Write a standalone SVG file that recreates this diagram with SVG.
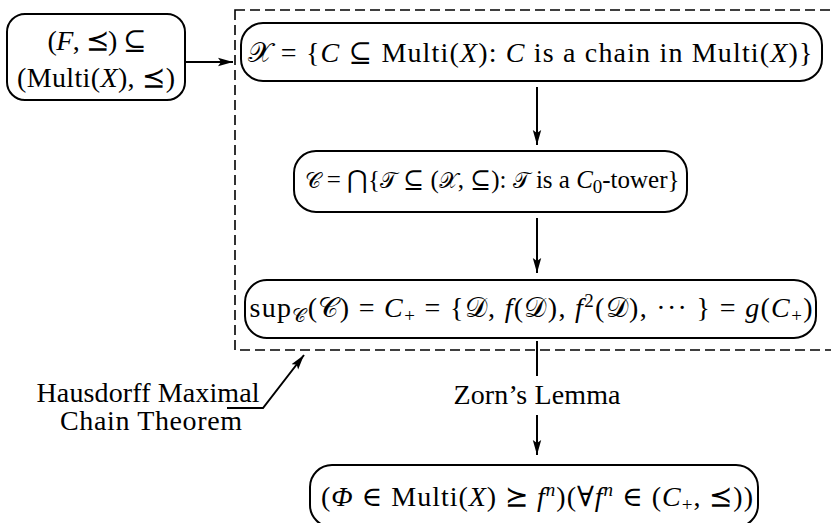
<svg xmlns="http://www.w3.org/2000/svg" width="831" height="523" viewBox="0 0 831 523">
<style>
.box{fill:#fff;stroke:#000;stroke-width:2}
.t{font-family:"Liberation Serif","DejaVu Serif",serif;font-size:28px;fill:#000}
.i{font-style:italic}
.s{font-size:19px}
.k{font-size:22px}
.c{stroke:#000;stroke-width:2;fill:none}
.dash{fill:none;stroke:#000;stroke-width:1.6;stroke-dasharray:10 5}
</style>
<defs>
<marker id="ah" markerWidth="16" markerHeight="10" refX="15" refY="5" orient="auto" markerUnits="userSpaceOnUse">
<path d="M0,0.8 L15,5 L0,9.2 L3,5 Z" fill="#000"/>
</marker>
</defs>
<rect width="831" height="523" fill="#fff"/>
<rect id="group-dashed" class="dash" x="235" y="10" width="610" height="340"/>
<g id="connectors">
<path class="c" d="M185,62 L233,62" marker-end="url(#ah)"/>
<path class="c" d="M537,87 L537,145" marker-end="url(#ah)"/>
<path class="c" d="M537,218 L537,273" marker-end="url(#ah)"/>
<path class="c" d="M537,341 L537,376"/>
<path class="c" d="M537,415 L537,455" marker-end="url(#ah)"/>
<path class="c" d="M227,408 L263,408 L304,355" marker-end="url(#ah)"/>
</g>
<g id="n-fmulti">
<rect class="box" x="7" y="14" width="178" height="86" rx="18"/>
<text class="t" x="97" y="50" text-anchor="middle" textLength="99">(<tspan class="i">F</tspan>, ⪯) ⊆</text>
<text class="t" x="96" y="87" text-anchor="middle" textLength="158">(Multi(<tspan class="i">X</tspan>), ⪯)</text>
</g>
<g id="n-X">
<rect class="box" x="241" y="23" width="581" height="58" rx="22"/>
<text class="t" x="530" y="62" text-anchor="middle" textLength="565">𝒳 = {<tspan class="i">C</tspan> ⊆ Multi(<tspan class="i">X</tspan>): <tspan class="i">C</tspan> is a chain in Multi(<tspan class="i">X</tspan>)}</text>
</g>
<g id="n-C">
<rect class="box" x="294" y="151" width="393" height="61" rx="22"/>
<text class="t" x="492" y="188" text-anchor="middle" textLength="375" style="font-size:25px"><tspan class="k">𝒞</tspan> = ⋂{<tspan class="k">𝒯</tspan> ⊆ (<tspan class="k">𝒳</tspan>, ⊆): <tspan class="k">𝒯</tspan> is a <tspan class="i">C</tspan><tspan class="s" dy="5">0</tspan><tspan dy="-5">-tower}</tspan></text>
</g>
<g id="n-sup">
<rect class="box" x="245" y="280" width="571" height="58" rx="22"/>
<text class="t" x="531" y="317" text-anchor="middle" textLength="563">sup<tspan class="s" dy="5">𝒞</tspan><tspan dy="-5">(𝒞) = </tspan><tspan class="i">C</tspan><tspan class="s" dy="5">+</tspan><tspan dy="-5"> = {𝒟, </tspan><tspan class="i">f</tspan>(𝒟), <tspan class="i">f</tspan><tspan class="s" dy="-10">2</tspan><tspan dy="10">(𝒟), ··· } = </tspan><tspan class="i">g</tspan>(<tspan class="i">C</tspan><tspan class="s" dy="5">+</tspan><tspan dy="-5">)</tspan></text>
</g>
<g id="n-phi">
<rect class="box" x="310" y="465" width="448" height="62" rx="22"/>
<text class="t" x="537" y="506" text-anchor="middle" textLength="432">(<tspan class="i">Φ</tspan> ∈ Multi(<tspan class="i">X</tspan>) ⪰ <tspan class="i">f</tspan><tspan class="s i" dy="-10">n</tspan><tspan dy="10">)(∀</tspan><tspan class="i">f</tspan><tspan class="s i" dy="-10">n</tspan><tspan dy="10"> ∈ (</tspan><tspan class="i">C</tspan><tspan class="s" dy="5">+</tspan><tspan dy="-5">, ⪯))</tspan></text>
</g>
<g id="label-zorn">
<text class="t" x="537" y="404" text-anchor="middle" textLength="167">Zorn’s Lemma</text>
</g>
<g id="label-hausdorff">
<text class="t" x="148" y="402" text-anchor="middle" textLength="223">Hausdorff Maximal</text>
<text class="t" x="151" y="430" text-anchor="middle" textLength="182">Chain Theorem</text>
</g>
</svg>
